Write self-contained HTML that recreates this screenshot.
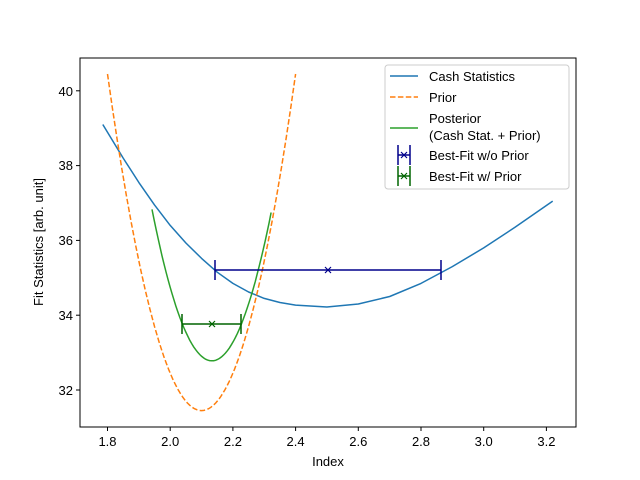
<!DOCTYPE html>
<html><head><meta charset="utf-8"><style>
body{margin:0;background:#fff}
svg{display:block;font-family:"Liberation Sans","DejaVu Sans",sans-serif}
</style></head><body>
<svg id="s" width="640" height="480" xmlns="http://www.w3.org/2000/svg">
<rect width="640" height="480" fill="#fff"/>
<g id="plot"></g>
<rect x="80" y="58" width="496" height="369" fill="none" stroke="#000" stroke-width="1"/>
<g font-size="13" fill="#000" text-anchor="middle">
<text x="107.5" y="446">1.8</text><text x="170.2" y="446">2.0</text><text x="232.9" y="446">2.2</text><text x="295.6" y="446">2.4</text><text x="358.3" y="446">2.6</text><text x="421" y="446">2.8</text><text x="483.7" y="446">3.0</text><text x="546.4" y="446">3.2</text>
<text x="328" y="466">Index</text>
</g>
<g stroke="#000" stroke-width="1">
<line x1="107.5" y1="427" x2="107.5" y2="431"/><line x1="170.2" y1="427" x2="170.2" y2="431"/><line x1="232.9" y1="427" x2="232.9" y2="431"/><line x1="295.6" y1="427" x2="295.6" y2="431"/><line x1="358.3" y1="427" x2="358.3" y2="431"/><line x1="421" y1="427" x2="421" y2="431"/><line x1="483.7" y1="427" x2="483.7" y2="431"/><line x1="546.4" y1="427" x2="546.4" y2="431"/>
<line x1="76" y1="390" x2="80" y2="390"/><line x1="76" y1="315.2" x2="80" y2="315.2"/><line x1="76" y1="240.4" x2="80" y2="240.4"/><line x1="76" y1="165.6" x2="80" y2="165.6"/><line x1="76" y1="90.8" x2="80" y2="90.8"/>
</g>
<g font-size="13" text-anchor="end">
<text x="73" y="395">32</text><text x="73" y="320">34</text><text x="73" y="245">36</text><text x="73" y="170">38</text><text x="73" y="96">40</text>
</g>
<text x="43" y="242" font-size="13" text-anchor="middle" transform="rotate(-90 43 242)">Fit Statistics [arb. unit]</text>
<g>
<rect x="385" y="65" width="184" height="124" rx="3" fill="#fff" fill-opacity="0.8" stroke="#ccc"/>
<g font-size="13">
<line x1="390" y1="76" x2="418" y2="76" stroke="#1f77b4" stroke-width="1.5"/><text x="429" y="81">Cash Statistics</text>
<line x1="390" y1="97" x2="418" y2="97" stroke="#ff7f0e" stroke-width="1.5" stroke-dasharray="5.5,2.4"/><text x="429" y="102">Prior</text>
<line x1="390" y1="128" x2="418" y2="128" stroke="#2ca02c" stroke-width="1.5"/><text x="429" y="123">Posterior</text><text x="429" y="140">(Cash Stat. + Prior)</text>
<g stroke="#00008b" stroke-width="1.5"><line x1="398" y1="155" x2="410" y2="155"/><line x1="398" y1="145" x2="398" y2="165"/><line x1="410" y1="145" x2="410" y2="165"/><path d="M401 152l6 6M407 152l-6 6" stroke-width="1.2"/></g><text x="429" y="160">Best-Fit w/o Prior</text>
<g stroke="#006400" stroke-width="1.5"><line x1="398" y1="176" x2="410" y2="176"/><line x1="398" y1="166" x2="398" y2="186"/><line x1="410" y1="166" x2="410" y2="186"/><path d="M401 173l6 6M407 173l-6 6" stroke-width="1.2"/></g><text x="429" y="181">Best-Fit w/ Prior</text>
</g></g>
</svg>
<script>
var X=v=>107.5+(v-1.8)*313.5, Y=w=>390-(w-32)*37.4;
var g=document.getElementById('plot'),ns='http://www.w3.org/2000/svg';
function path(d,attrs){var p=document.createElementNS(ns,'path');p.setAttribute('d',d);p.setAttribute('fill','none');for(var k in attrs)p.setAttribute(k,attrs[k]);g.appendChild(p);}
function fn(f,a,b,n){var d='';for(var i=0;i<=n;i++){var v=a+(b-a)*i/n;d+=(i?'L':'M')+X(v).toFixed(1)+' '+Y(f(v)).toFixed(1);}return d;}
var pts=[[1.785,39.1],[1.85,38.2],[1.9,37.55],[1.95,36.95],[2.0,36.4],[2.05,35.93],[2.1,35.52],[2.15,35.15],[2.2,34.85],[2.25,34.62],[2.3,34.45],[2.35,34.34],[2.4,34.27],[2.5,34.22],[2.6,34.3],[2.7,34.5],[2.8,34.85],[2.9,35.3],[3.0,35.8],[3.1,36.35],[3.22,37.05]];
var d='';pts.forEach((p,i)=>{d+=(i?'L':'M')+X(p[0]).toFixed(1)+' '+Y(p[1]).toFixed(1);});
path(d,{stroke:'#1f77b4','stroke-width':1.5,'stroke-linejoin':'round'});
path(fn(v=>31.45+100*(v-2.1)*(v-2.1),1.8,2.4,80),{stroke:'#ff7f0e','stroke-width':1.5,'stroke-dasharray':'5.5,2.4'});
path(fn(v=>32.78+111*(v-2.133)*(v-2.133),1.942,2.322,60),{stroke:'#2ca02c','stroke-width':1.5});
path('M215 270H441M215 260V280M441 260V280',{stroke:'#00008b','stroke-width':1.5});
path('M325 267l6 6M331 267l-6 6',{stroke:'#00008b','stroke-width':1.2});
path('M182 324H241M182 314V334M241 314V334',{stroke:'#006400','stroke-width':1.5});
path('M209 321l6 6M215 321l-6 6',{stroke:'#006400','stroke-width':1.2});
</script>
</body></html>
